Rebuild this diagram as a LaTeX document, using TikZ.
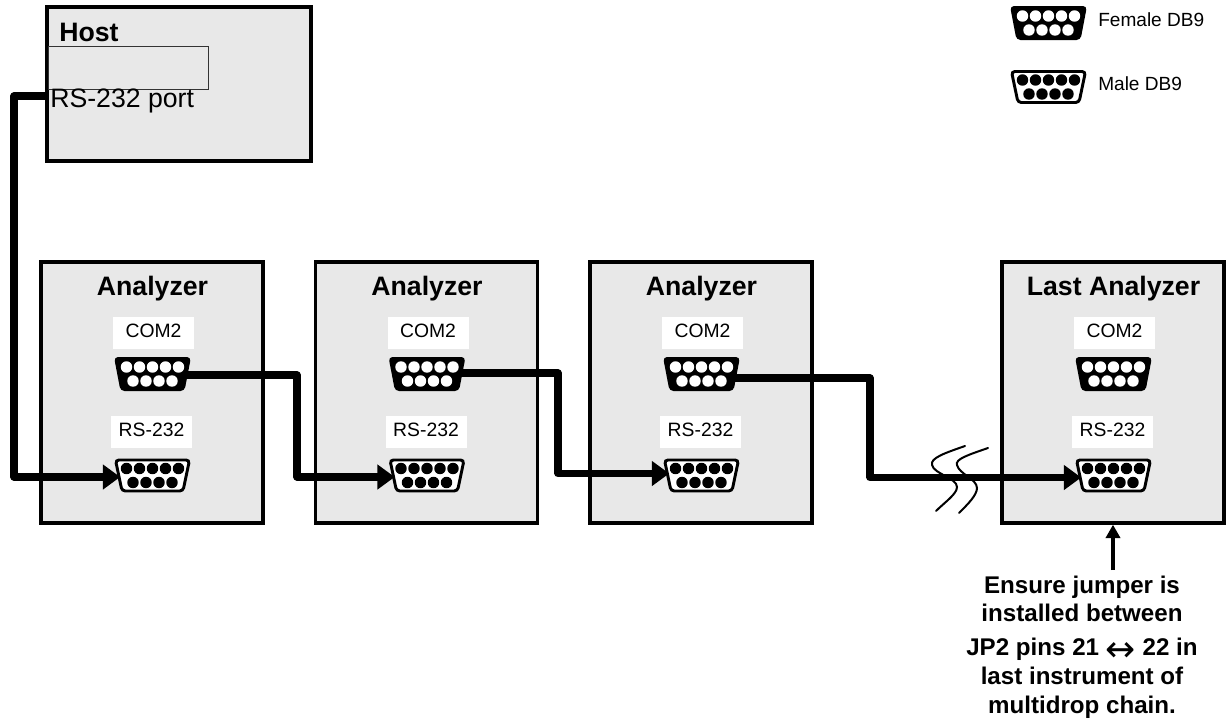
\documentclass[tikz,border=0pt]{standalone}
\usepackage{fontspec}
\setmainfont{Liberation Sans}
\newfontfamily\arrowfont{DejaVu Sans}
\usetikzlibrary{arrows.meta}

\tikzset{
    unitbox/.style={draw=black, line width=2.5pt, fill=black!9, inner sep=0pt},
    portlabel/.style={fill=white, minimum width=60.75pt, minimum height=24pt, inner sep=0pt, text height=10.5pt, text depth=3.7pt, font=\fontsize{14.5}{17}\selectfont},
    title/.style={anchor=base, font=\fontsize{20}{24}\selectfont\bfseries, inner sep=0pt},
    legendtext/.style={anchor=west, inner sep=0pt, font=\fontsize{14.3}{17}\selectfont},
    portspot/.style={minimum width=48pt, minimum height=25pt, inner sep=0pt},
    wire/.style={line width=5.3pt, line join=round},
    wirearrow/.style={wire, -{Stealth[length=13pt,width=18pt,inset=0pt]}},
    breakline/.style={line width=1.5pt, line cap=round}
}

% Conectores DB9: nombre, x, y
\newcommand{\femaledb}[3]{
    \node[portspot] (#1) at (#2,#3) {};
    \begin{scope}[shift={(#1)}]
        \fill[black, rounded corners=3pt] (-38.5,-17) -- (38.5,-17) -- (32,17) -- (-32,17) -- cycle;
        \foreach \px in {-26,-13,0,13,26} \fill[white] (\px,-7) circle (4.3pt);
        \foreach \px in {-19.5,-6.5,6.5,19.5} \fill[white] (\px,7) circle (4.3pt);
    \end{scope}
}
\newcommand{\maledb}[3]{
    \node[portspot] (#1) at (#2,#3) {};
    \begin{scope}[shift={(#1)}]
        \filldraw[draw=black, fill=white, line width=2.2pt, rounded corners=2.5pt] (-37,-15.5) -- (37,-15.5) -- (30.5,15.5) -- (-30.5,15.5) -- cycle;
        \foreach \px in {-26,-13,0,13,26} \fill[black] (\px,-7) circle (4.3pt);
        \foreach \px in {-19.5,-6.5,6.5,19.5} \fill[black] (\px,7) circle (4.3pt);
    \end{scope}
}

\begin{document}
\begin{tikzpicture}[x=0.75pt, y=-0.75pt]
    \useasboundingbox (0,0) rectangle (1232,719);

    % Host
    \node[unitbox, minimum width=198pt, minimum height=115.5pt] (host) at (179,84) {};
    \node[draw=black!80, line width=0.7pt, minimum width=120pt, minimum height=32.25pt, inner sep=0pt] (hostinner) at (128,67.5) {};
    \node[title, anchor=base west] (hosttitle) at (59,41) {Host};
    \node[anchor=base west, inner sep=0pt, font=\fontsize{20}{24}\selectfont] (hostport) at (50,107.5) {RS-232 port};

    % Analizadores
    \foreach \n/\x/\name in {1/0/Analyzer, 2/274.5/Analyzer, 3/549/Analyzer, 4/961/Last Analyzer} {
        \node[unitbox, minimum width=166.5pt, minimum height=195.75pt] (unit\n) at ({152+\x},392.5) {};
        \node[title] (title\n) at ({152.5+\x},295.5) {\name};
        \node[portlabel] (comlabel\n) at ({153.5+\x},333) {COM2};
        \node[portlabel] (rslabel\n) at ({151.5+\x},432) {RS-232};
        \femaledb{com\n}{152.5+\x}{374}
        \maledb{rs\n}{152.5+\x}{475.5}
    }

    % Cables
    \coordinate (hostend) at (47,96);
    \coordinate (hostbend) at (14,96);
    \coordinate (bend0) at (14,477);
    \coordinate (bend1) at (297,477);
    \coordinate (bend2) at (558,473.5);
    \coordinate (bend3) at (870,477.5);
    \draw[wirearrow] (hostend) -- (hostbend) -- (bend0) -- (bend0 -| rs1.west);
    \draw[wirearrow] ([yshift=-0.75pt]com1.east) -| (bend1) -- (bend1 -| rs2.west);
    \draw[wirearrow] ([yshift=0.75pt]com2.east) -| (bend2) -- (bend2 -| rs3.west);
    \draw[wirearrow] ([yshift=-3pt]com3.east) -| (bend3) -- (bend3 -| rs4.west);

    % Corte del cable
    \draw[breakline] (965,446) .. controls (945,453) and (930,458) .. (932,465) .. controls (934,474) and (957,478) .. (957,487) .. controls (957,494) and (945,502) .. (936,511);
    \draw[breakline] (988,448) .. controls (968,455) and (955,459) .. (957,465) .. controls (959,474) and (977,479) .. (977,488) .. controls (977,495) and (968,504) .. (959,513);

    % Leyenda
    \femaledb{legendf}{1048.5}{23}
    \maledb{legendm}{1048.5}{87}
    \node[legendtext] (legendftext) at (1098,20) {Female DB9};
    \node[legendtext] (legendmtext) at (1098,84) {Male DB9};

    % Nota del puente
    \node[align=center, inner sep=0pt, anchor=north, font=\fontsize{18.1}{21}\selectfont\bfseries] (note) at (1082,576) {Ensure jumper is\\[0pt]installed between\\[4.5pt]JP2 pins 21 \raisebox{-4.5pt}{\smash{\arrowfont\mdseries\fontsize{27}{21}\selectfont ↔}} 22 in\\[0.75pt]last instrument of\\[0.75pt]multidrop chain.};
    \coordinate (notearrow) at (1113,570);
    \draw[line width=3.2pt, -{Stealth[length=10pt,width=10.5pt,inset=0pt]}] (notearrow) -- (unit4.south);
\end{tikzpicture}
\end{document}
